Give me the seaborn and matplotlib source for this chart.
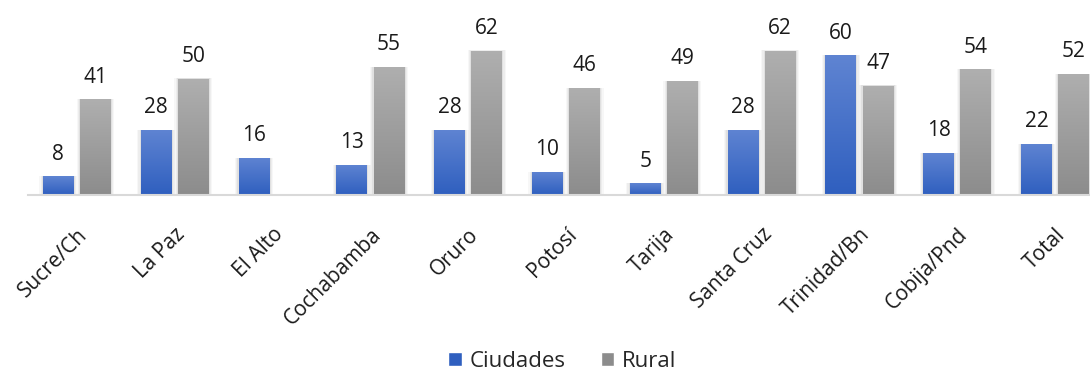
import numpy as np
import pandas as pd
import matplotlib
matplotlib.use("Agg")
import matplotlib.pyplot as plt
import matplotlib.transforms as mtransforms
import seaborn as sns
from matplotlib.colors import LinearSegmentedColormap
from matplotlib.patches import Patch

# Data
categorias = ["Sucre/Ch", "La Paz", "El Alto", "Cochabamba", "Oruro", "Potosí",
              "Tarija", "Santa Cruz", "Trinidad/Bn", "Cobija/Pnd", "Total"]
ciudades = [8, 28, 16, 13, 28, 10, 5, 28, 60, 18, 22]
rural = [41, 50, np.nan, 55, 62, 46, 49, 62, 47, 54, 52]
series = ["Ciudades", "Rural"]

colores_top = {"Ciudades": "#5f84d2", "Rural": "#afafaf"}
colores_bot = {"Ciudades": "#2f5fbf", "Rural": "#8c8c8c"}

df = pd.DataFrame({
    "categoria": categorias * 2,
    "serie": [series[0]] * len(categorias) + [series[1]] * len(categorias),
    "valor": ciudades + rural,
})

sns.set_theme(style="white")
plt.rcParams["font.family"] = ["Open Sans", "DejaVu Sans"]

fig = plt.figure(figsize=(10.9, 3.72), dpi=100)
ax = fig.add_axes([28 / 1090, 177 / 372, 1076 / 1090, 195 / 372])

sns.barplot(data=df, x="categoria", y="valor", hue="serie", order=categorias,
            hue_order=series, palette=[colores_bot[s] for s in series],
            width=0.76, gap=0.17, ax=ax, legend=False, saturation=1,
            linewidth=0)

# Vertical gradient fill for each bar, plus a soft shadow
n = len(categorias)
for i, bar in enumerate(list(ax.patches)):
    h = bar.get_height()
    if not np.isfinite(h) or h <= 0:
        continue
    serie = series[0] if i < n else series[1]
    x0 = bar.get_x()
    w = bar.get_width()
    for k, a in enumerate([0.05, 0.04, 0.03]):
        d = 0.012 * (k + 1)
        ax.add_patch(plt.Rectangle((x0 - d, 0), w + 2 * d, h + d * 1.6,
                                   color="black", alpha=a, lw=0, zorder=1.5))
    cmap = LinearSegmentedColormap.from_list(
        serie, [colores_bot[serie], colores_top[serie]])
    grad = np.linspace(0, 1, 256).reshape(-1, 1)
    im = ax.imshow(grad, cmap=cmap, origin="lower", aspect="auto",
                   extent=[x0, x0 + w, 0, h], zorder=2.5)
    im.set_clip_path(bar)
    bar.set_zorder(2)

ax.set_xlim(-0.5, len(categorias) - 0.5)
ax.set_ylim(0, 83.7)

# Value labels
offs = [-0.19, 0.19]
for j, (serie, vals) in enumerate(zip(series, [ciudades, rural])):
    for i, v in enumerate(vals):
        if np.isfinite(v):
            ax.annotate(f"{v:g}", (i + offs[j], v), xytext=(0, 12),
                        textcoords="offset points", ha="center", va="baseline",
                        fontsize=15, color="#1a1a1a")

# Axes styling
for s in ["top", "right", "left"]:
    ax.spines[s].set_visible(False)
ax.spines["bottom"].set_color("#d9d9d9")
ax.spines["bottom"].set_linewidth(1.5)
ax.set_yticks([])
ax.set_xlabel("")
ax.set_ylabel("")
ax.tick_params(axis="x", length=0, pad=21)
ax.set_xticks(range(len(categorias)))
ax.set_xticklabels(categorias, rotation=45, ha="right", rotation_mode="anchor",
                   fontsize=15, color="#1a1a1a")
shift = mtransforms.ScaledTranslation(0, 0, fig.dpi_scale_trans)
for lbl in ax.get_xticklabels():
    lbl.set_transform(lbl.get_transform() + shift)

handles = [Patch(facecolor=colores_bot[s], label=s) for s in series]
fig.legend(handles=handles, loc="center", bbox_to_anchor=(0.516, 0.028),
           ncol=2, frameon=False, fontsize=16, handlelength=0.6,
           handleheight=0.6, handletextpad=0.35, columnspacing=1.6)

fig.savefig("out.png", dpi=100)
